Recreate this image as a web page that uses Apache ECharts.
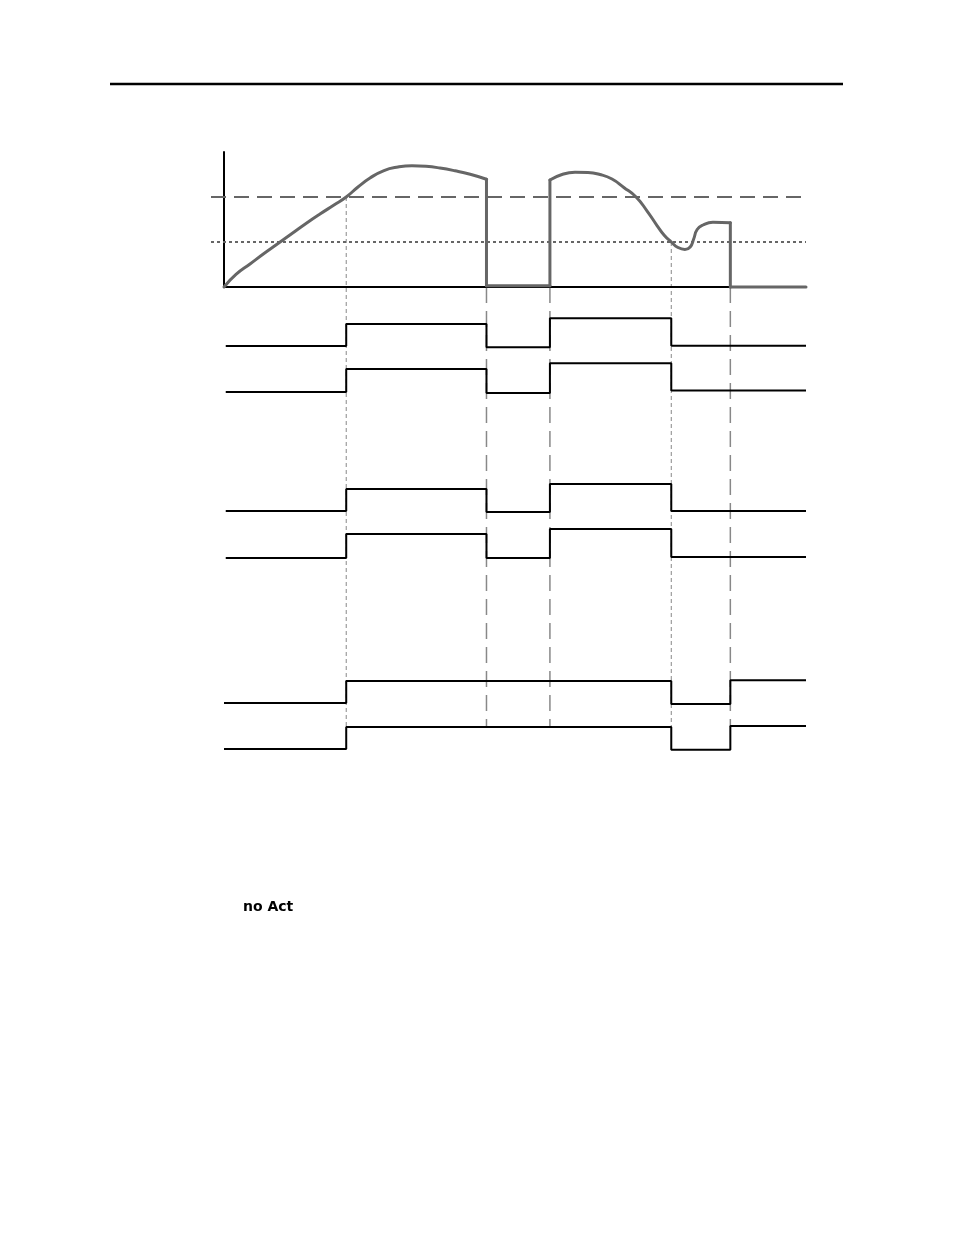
<!DOCTYPE html>
<html>
<head>
<meta charset="utf-8">
<script src="https://cdn.jsdelivr.net/npm/echarts@6/dist/echarts.min.js"></script>
<style>
html,body{margin:0;padding:0;background:#fff;}
#main{width:954px;height:1235px;}
</style>
</head>
<body>
<div id="main"></div>
<script>
// ---- data ----
// event times (time axis 0..100)
var eventTimes = [21, 45.1, 56, 76.85, 87];
// process value curve (time, value); setpoints at 100 (high) and 50 (low)
var pvTime  = [0, 2.06, 4.47, 6.87, 9.28, 11.68, 14.09, 16.49, 18.9, 21, 23.02, 25.09, 27.49, 29.9, 32.3, 34.7, 37.1, 39.7, 42.3, 45.1,
               45.1, 56,
               56, 58.08, 60.31, 62.54, 64.6, 66.67, 68.7, 70.8, 72.7, 74.4, 75.6, 76.85, 78.0, 79.2, 80.1, 80.7, 81.3, 82.3, 84.0, 87,
               87, 100];
var pvValue = [0, 13.9, 25.6, 37.2, 48.3, 59.4, 70.6, 81.1, 91.1, 100, 111.1, 121.1, 129.4, 133.3, 134.7, 134.1, 132.2, 129.1, 125.2, 119.7,
               1.5, 1.5,
               118.9, 125, 127.4, 127.2, 125, 120, 110.6, 100, 84.4, 68.3, 57.8, 50, 43.9, 41.7, 44.4, 53.3, 63.9, 68.9, 71.9, 71.4,
               0, 0];
var spHigh = 100;
var spLow = 50;
// digital outputs: transition times and levels (0 = off, 1 = on)
var row1Times = [0.3, 21, 45.1, 56, 76.85, 100];
var row1Levels = [0, 1, -0.06, 1.26, 0.01, 0.01];
var row2Times = [0.3, 21, 45.1, 56, 76.85, 100];
var row2Levels = [0, 1, -0.04, 1.25, 0.06, 0.06];
var row3Times = [0.3, 21, 45.1, 56, 76.85, 100];
var row3Levels = [0, 1, -0.05, 1.23, 0, 0];
var row4Times = [0.3, 21, 45.1, 56, 76.85, 100];
var row4Levels = [0, 1, 0, 1.21, 0.04, 0.04];
var row5Times = [0, 21, 76.85, 87, 100];
var row5Levels = [0, 1, -0.05, 1.03, 1.03];
var row6Times = [0, 21, 76.85, 87, 100];
var row6Levels = [0, 1, -0.03, 1.05, 1.05];
// guides: fine dashed at setpoint crossings, long dashed at the other events
var guideStartValues = [100, 0, 0, 50, 0];
var guideFine = [true, false, false, true, false];

// ---- layout ----
var LEFT = 224, WIDTH = 582;
var G0_TOP = 152, G0_H = 135, PV_MAX = 150;
var SP_OVERHANG_PX = 13;
var rowGrids = [
  {top: 324, height: 22},
  {top: 369, height: 23},
  {top: 489, height: 22},
  {top: 534, height: 24},
  {top: 681, height: 22},
  {top: 727, height: 22}
];
var GUIDE_BOTTOM_PX = 727;

var pxPerT = WIDTH / 100;
var pxPerUnit = G0_H / PV_MAX;
var guideBottomVal = -(GUIDE_BOTTOM_PX - (G0_TOP + G0_H)) / pxPerUnit;
var spStartT = -SP_OVERHANG_PX / pxPerT;

function zip(a, b) { return a.map(function (v, i) { return [v, b[i]]; }); }
function steps(times, levels) {
  var out = [[times[0], levels[0]]];
  for (var i = 1; i < times.length; i++) {
    out.push([times[i], levels[i - 1]]);
    if (levels[i] !== levels[i - 1]) out.push([times[i], levels[i]]);
  }
  return out;
}

var grids = [{left: LEFT - SP_OVERHANG_PX, width: WIDTH + SP_OVERHANG_PX, top: G0_TOP, height: G0_H}];
var xAxes = [{gridIndex: 0, type: 'value', min: spStartT, max: 100,
  axisLine: {show: false}, axisTick: {show: false},
  axisLabel: {show: false}, splitLine: {show: false}}];
var yAxes = [{gridIndex: 0, type: 'value', min: 0, max: PV_MAX,
  axisLine: {show: true, onZero: true, lineStyle: {color: '#000', width: 2}}, axisTick: {show: false},
  axisLabel: {show: false}, splitLine: {show: false}}];
rowGrids.forEach(function (g, i) {
  grids.push({left: LEFT, width: WIDTH, top: g.top, height: g.height});
  xAxes.push({gridIndex: i + 1, type: 'value', min: 0, max: 100, show: false});
  yAxes.push({gridIndex: i + 1, type: 'value', min: 0, max: 1, show: false});
});

var series = [];
// guides
eventTimes.forEach(function (t, i) {
  series.push({
    type: 'line', xAxisIndex: 0, yAxisIndex: 0, clip: false, symbol: 'none', silent: true, z: 1,
    data: [[t, guideStartValues[i]], [t, guideBottomVal]],
    lineStyle: guideFine[i] ? {color: '#888', width: 1, type: [4, 3]} : {color: '#888', width: 1.5, type: [16, 8]}
  });
});
// time baseline (x axis)
series.push({type: 'line', xAxisIndex: 0, yAxisIndex: 0, clip: false, symbol: 'none', z: 2,
  data: [[0, 0], [100, 0]], lineStyle: {color: '#000', width: 2}});
// setpoints
series.push({type: 'line', xAxisIndex: 0, yAxisIndex: 0, clip: false, symbol: 'none', z: 2,
  data: [[spStartT, spHigh], [100, spHigh]], lineStyle: {color: '#666', width: 2, type: [15, 8]}});
series.push({type: 'line', xAxisIndex: 0, yAxisIndex: 0, clip: false, symbol: 'none', z: 2,
  data: [[spStartT, spLow], [100, spLow]], lineStyle: {color: '#666', width: 2, type: [3, 3]}});
// process value: smooth runs, straight vertical jumps
var pts = zip(pvTime, pvValue);
var runs = [[pts[0]]];
for (var i = 1; i < pts.length; i++) {
  if (pts[i][0] === pts[i - 1][0]) {
    runs.push([pts[i - 1], pts[i]]);
    runs.push([pts[i]]);
  } else {
    runs[runs.length - 1].push(pts[i]);
  }
}
runs.filter(function (r) { return r.length >= 2; }).forEach(function (r) {
  series.push({type: 'line', xAxisIndex: 0, yAxisIndex: 0, clip: false, symbol: 'none', z: 3,
    smooth: r.length > 2 ? 0.5 : false,
    data: r, lineStyle: {color: '#666', width: 3, cap: 'round', join: 'round'}});
});
// digital rows
[[row1Times, row1Levels], [row2Times, row2Levels], [row3Times, row3Levels],
 [row4Times, row4Levels], [row5Times, row5Levels], [row6Times, row6Levels]].forEach(function (r, i) {
  series.push({type: 'line', xAxisIndex: i + 1, yAxisIndex: i + 1, clip: false, symbol: 'none', z: 4,
    data: steps(r[0], r[1]), lineStyle: {color: '#000', width: 2}});
});

var chart = echarts.init(document.getElementById('main'), null, {renderer: 'canvas'});
chart.setOption({
  backgroundColor: '#fff',
  animation: false,
  grid: grids,
  xAxis: xAxes,
  yAxis: yAxes,
  series: series,
  graphic: [
    {type: 'line', shape: {x1: 110, y1: 84, x2: 843, y2: 84}, style: {stroke: '#000', lineWidth: 2.5}},
    {type: 'text', left: 243, top: 900, style: {text: 'no Act', font: 'bold 14px "DejaVu Sans"', fill: '#000'}}
  ]
});
</script>
</body>
</html>
